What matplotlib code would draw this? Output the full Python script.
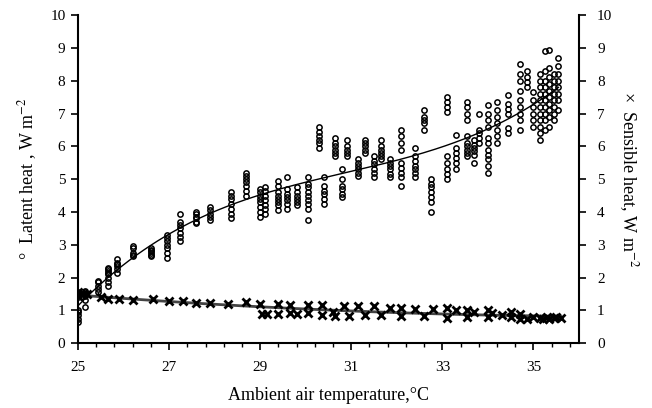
import matplotlib.pyplot as plt
import numpy as np

plt.rcParams['font.family'] = 'Liberation Serif'
plt.rcParams['mathtext.fontset'] = 'stix'

# latent heat: temperature of each measurement group and its readings (W m-2)
latent_temps = [25.0, 25.15, 25.45, 25.65, 25.85, 26.2, 26.6, 26.95, 27.25, 27.6,
                27.9, 28.35, 28.7, 29.0, 29.1, 29.4, 29.6, 29.8, 30.05, 30.3,
                30.4, 30.65, 30.8, 30.9, 31.15, 31.3, 31.5, 31.65, 31.85, 32.1,
                32.4, 32.6, 32.75, 33.1, 33.3, 33.55, 33.7, 33.8, 34.0, 34.2,
                34.45, 34.7, 34.85, 35.0, 35.15, 35.25, 35.35, 35.45, 35.55]
latent_values = [
    [0.65, 0.75, 0.85, 0.95, 1.0, 1.4, 1.5, 1.55],
    [1.1, 1.3, 1.45, 1.5, 1.55, 1.6],
    [1.55, 1.65, 1.75, 1.85, 1.9],
    [1.75, 1.85, 2.0, 2.1, 2.15, 2.2, 2.25, 2.3],
    [2.15, 2.25, 2.35, 2.4, 2.45, 2.55],
    [2.65, 2.7, 2.75, 2.9, 2.95],
    [2.65, 2.7, 2.75, 2.8, 2.85, 2.9],
    [2.6, 2.75, 2.9, 3.0, 3.1, 3.2, 3.3],
    [3.1, 3.25, 3.35, 3.5, 3.6, 3.7, 3.95],
    [3.65, 3.7, 3.8, 3.85, 3.95, 4.0],
    [3.75, 3.85, 3.95, 4.05, 4.15],
    [3.8, 3.95, 4.1, 4.25, 4.4, 4.5, 4.6],
    [4.5, 4.65, 4.8, 4.9, 5.0, 5.1, 5.2],
    [3.85, 4.0, 4.15, 4.3, 4.4, 4.5, 4.6, 4.7],
    [3.95, 4.1, 4.2, 4.35, 4.5, 4.65, 4.75],
    [4.05, 4.2, 4.3, 4.4, 4.5, 4.6, 4.8, 4.95],
    [4.1, 4.25, 4.35, 4.45, 4.55, 4.7, 5.05],
    [4.2, 4.3, 4.4, 4.5, 4.6, 4.75],
    [3.75, 4.1, 4.25, 4.35, 4.5, 4.6, 4.75, 4.85, 5.05],
    [5.95, 6.1, 6.2, 6.3, 6.45, 6.6],
    [4.25, 4.4, 4.55, 4.65, 4.8, 5.05],
    [5.7, 5.8, 5.9, 6.0, 6.1, 6.25],
    [4.45, 4.55, 4.7, 4.8, 5.0, 5.3],
    [5.7, 5.8, 5.9, 6.0, 6.2],
    [5.1, 5.2, 5.3, 5.4, 5.5, 5.6],
    [5.8, 5.9, 6.0, 6.1, 6.2],
    [5.05, 5.2, 5.3, 5.45, 5.55, 5.7],
    [5.6, 5.7, 5.8, 5.9, 6.0, 6.2],
    [5.05, 5.15, 5.3, 5.4, 5.5, 5.6],
    [4.8, 5.05, 5.2, 5.35, 5.5, 5.9, 6.1, 6.3, 6.5],
    [5.05, 5.2, 5.3, 5.4, 5.55, 5.7, 5.95],
    [6.5, 6.7, 6.8, 6.9, 7.1],
    [4.0, 4.3, 4.45, 4.6, 4.75, 4.85, 5.0],
    [5.0, 5.15, 5.3, 5.5, 5.7, 7.05, 7.2, 7.35, 7.5],
    [5.3, 5.5, 5.65, 5.8, 5.95, 6.35],
    [5.7, 5.8, 5.9, 6.0, 6.1, 6.3, 6.8, 7.0, 7.2, 7.35],
    [5.5, 5.75, 5.85, 5.95, 6.05, 6.2],
    [6.1, 6.25, 6.4, 6.5, 7.0],
    [5.2, 5.4, 5.6, 5.75, 5.9, 6.1, 6.25, 6.6, 6.8, 7.0, 7.25],
    [6.1, 6.3, 6.5, 6.7, 6.9, 7.1, 7.35],
    [6.4, 6.55, 7.0, 7.15, 7.3, 7.55],
    [6.5, 6.8, 7.0, 7.2, 7.4, 7.7, 8.0, 8.2, 8.5],
    [7.8, 7.95, 8.1, 8.3],
    [6.6, 6.8, 7.0, 7.2, 7.4, 7.65],
    [6.2, 6.4, 6.6, 6.8, 7.0, 7.2, 7.4, 7.6, 7.8, 8.0, 8.2],
    [6.5, 6.8, 7.0, 7.2, 7.4, 7.6, 7.8, 8.0, 8.3, 8.9],
    [6.6, 6.9, 7.1, 7.3, 7.5, 7.7, 7.9, 8.1, 8.4, 8.95],
    [6.8, 7.0, 7.2, 7.4, 7.6, 7.8, 8.0, 8.2],
    [7.1, 7.4, 7.6, 7.8, 8.0, 8.2, 8.45, 8.7],
]

# sensible heat readings
sensible_temps = [25.0, 25.0, 25.1, 25.2, 25.5, 25.65, 25.9, 26.2, 26.65, 27.0,
                  27.3, 27.6, 27.9, 28.3, 28.7, 29.0, 29.05, 29.15, 29.4, 29.4,
                  29.65, 29.65, 29.8, 30.05, 30.05, 30.35, 30.35, 30.6, 30.65, 30.85,
                  30.95, 31.15, 31.3, 31.5, 31.65, 31.85, 32.1, 32.1, 32.4, 32.6,
                  32.8, 33.1, 33.1, 33.3, 33.55, 33.55, 33.7, 34.0, 34.0, 34.1,
                  34.3, 34.5, 34.5, 34.7, 34.7, 34.85, 35.0, 35.15, 35.2, 35.3,
                  35.35, 35.45, 35.5, 35.6]
sensible_values = [1.45, 1.55, 1.5, 1.5, 1.4, 1.35, 1.35, 1.3, 1.33, 1.28,
                   1.27, 1.22, 1.22, 1.2, 1.25, 1.2, 0.9, 0.9, 1.2, 0.9,
                   1.15, 0.92, 0.88, 1.15, 0.93, 1.15, 0.85, 0.95, 0.82, 1.13,
                   0.82, 1.13, 0.85, 1.13, 0.85, 1.07, 1.07, 0.82, 1.03, 0.82,
                   1.03, 1.07, 0.77, 1.0, 1.0, 0.8, 0.95, 1.0, 0.8, 0.93,
                   0.85, 0.95, 0.8, 0.9, 0.75, 0.75, 0.8, 0.78, 0.75, 0.8,
                   0.75, 0.78, 0.8, 0.78]

lat_x = np.repeat(latent_temps, [len(v) for v in latent_values])
lat_y = np.concatenate(latent_values)
sen_x = np.array(sensible_temps)
sen_y = np.array(sensible_values)

fig = plt.figure(figsize=(6.52, 4.08), dpi=100)
ax = fig.add_axes([0.1196, 0.159, 0.7684, 0.804])

ax.plot(lat_x, lat_y, 'o', ms=3.8, mfc='none', mec='black', mew=1.1, zorder=3)
ax.plot(sen_x, sen_y, 'x', ms=5.5, mec='black', mew=2.0, zorder=3)

# Excel-like trend lines
tl = np.linspace(lat_x.min(), lat_x.max(), 200)
ax.plot(tl, np.polyval(np.polyfit(lat_x, lat_y, 3), tl), color='black', lw=1.0, zorder=4)
ts = np.linspace(sen_x.min(), sen_x.max(), 200)
ax.plot(ts, np.polyval(np.polyfit(sen_x, sen_y, 2), ts), color='#444444', lw=2.0, zorder=2)

ax.set_xlim(25, 36)
ax.set_ylim(0, 10)
ax.set_xticks(np.arange(25, 36, 2))
ax.set_xticks(np.arange(25, 36.01, 0.4), minor=True)
ax.set_yticks(np.arange(0, 11, 1))
ax.tick_params(axis='both', direction='out', width=1.2, length=5, labelsize=11, pad=4)
ax.tick_params(axis='x', which='minor', direction='out', width=1.0, length=3)
ax.tick_params(axis='x', pad=8)
for side in ['left', 'bottom']:
    ax.spines[side].set_linewidth(1.5)
ax.spines['top'].set_visible(False)
ax.spines['right'].set_visible(False)

ax2 = ax.twinx()
ax2.set_ylim(0, 10)
ax2.set_yticks(np.arange(0, 11, 1))
ax2.tick_params(axis='y', direction='out', width=1.2, length=5, labelsize=11, pad=8)
ax2.spines['right'].set_linewidth(1.5)
ax2.spines['top'].set_visible(False)
ax2.spines['left'].set_visible(False)
ax2.spines['bottom'].set_visible(False)

ax.set_xlabel('Ambient air temperature,°C', fontsize=13, labelpad=9)
ax.set_ylabel('°  Latent heat , W m$^{-2}$', fontsize=13, labelpad=8)
ax2.set_ylabel('×  Sensible heat, W m$^{-2}$', fontsize=13, rotation=270, labelpad=20)

fig.savefig('out.png', dpi=100)
